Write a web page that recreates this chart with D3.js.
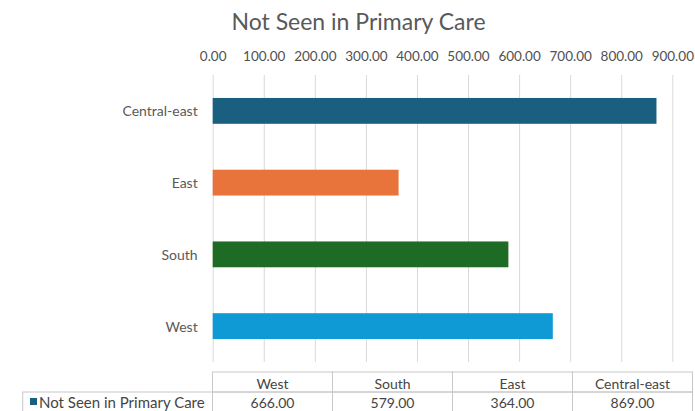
<!DOCTYPE html>
<html>
<head>
<meta charset="utf-8">
<script src="https://cdn.jsdelivr.net/npm/d3@7"></script>
<style>
  body { margin: 0; background: #fff; }
  text { font-family: Lato, "Open Sans", sans-serif; fill: #595959; }
</style>
</head>
<body>
<div id="chart"></div>
<script>
// Data.
let categories = ["Central-east", "East", "South", "West"];
let values = [869, 364, 579, 666];
let barColors = ["#1a5e80", "#e8743b", "#1e6b26", "#0f9ad6"];
let tableOrder = ["West", "South", "East", "Central-east"];
let xTicks = [0, 100, 200, 300, 400, 500, 600, 700, 800, 900];
let seriesName = "Not Seen in Primary Care";

let width = 695, height = 411;
let plot = {left: 212.7, right: 672.3, top: 75, bottom: 362};
let table = {left: 212.5, right: 692.5, top: 372, mid: 392, bottom: 412, legendLeft: 22.7};

let svg = d3.select("#chart")
            .append("svg")
            .attr("width", width)
            .attr("height", height);

// Scales.
let x = d3.scaleLinear()
          .domain([0, 900])
          .range([plot.left, plot.right]);

let y = d3.scaleBand()
          .domain(categories)
          .range([plot.top, plot.bottom])
          .paddingInner(0.64)
          .paddingOuter(0.32);

// Title.
svg.append("text")
   .attr("x", 358.5)
   .attr("y", 30)
   .attr("text-anchor", "middle")
   .style("font-size", "23px")
   .text(seriesName);

// Top axis with gridlines.
let xAxis = svg.append("g")
   .attr("transform", "translate(0," + plot.top + ")")
   .call(d3.axisTop(x)
           .tickValues(xTicks)
           .tickFormat(d3.format(".2f"))
           .tickSize(-(plot.bottom - plot.top))
           .tickPadding(14));
xAxis.select(".domain").remove();
xAxis.selectAll(".tick line").attr("stroke", "#d9d9d9").attr("stroke-width", 1);
xAxis.selectAll(".tick text")
     .style("font-size", "13.5px")
     .style("fill", "#505050");

// Category labels.
svg.append("g")
   .selectAll("text")
   .data(categories)
   .enter()
   .append("text")
   .attr("x", plot.left - 15)
   .attr("y", function(d) { return y(d) + y.bandwidth() / 2; })
   .attr("text-anchor", "end")
   .attr("dominant-baseline", "central")
   .style("font-size", "14px")
   .text(function(d) { return d; });

// Bars.
svg.append("g")
   .selectAll("rect")
   .data(categories)
   .enter()
   .append("rect")
   .attr("x", x(0))
   .attr("y", function(d) { return y(d); })
   .attr("width", function(d, i) { return x(values[i]) - x(0); })
   .attr("height", y.bandwidth())
   .attr("fill", function(d, i) { return barColors[i]; });

// Data table below the chart.
let col = d3.scaleBand()
            .domain(tableOrder)
            .range([table.left, table.right]);

let tg = svg.append("g");
let lineColor = "#c8c8c8";

// Header cells.
tg.selectAll(".hcell")
  .data(tableOrder)
  .enter()
  .append("rect")
  .attr("x", function(d) { return col(d); })
  .attr("y", table.top)
  .attr("width", col.bandwidth())
  .attr("height", table.mid - table.top)
  .attr("fill", "none")
  .attr("stroke", lineColor);

// Value cells.
tg.selectAll(".vcell")
  .data(tableOrder)
  .enter()
  .append("rect")
  .attr("x", function(d) { return col(d); })
  .attr("y", table.mid)
  .attr("width", col.bandwidth())
  .attr("height", table.bottom - table.mid)
  .attr("fill", "none")
  .attr("stroke", lineColor);

// Legend cell.
tg.append("rect")
  .attr("x", table.legendLeft)
  .attr("y", table.mid)
  .attr("width", table.left - table.legendLeft)
  .attr("height", table.bottom - table.mid)
  .attr("fill", "none")
  .attr("stroke", lineColor);

tg.selectAll(".htext")
  .data(tableOrder)
  .enter()
  .append("text")
  .attr("x", function(d) { return col(d) + col.bandwidth() / 2; })
  .attr("y", (table.top + table.mid) / 2 + 1)
  .attr("text-anchor", "middle")
  .attr("dominant-baseline", "central")
  .style("font-size", "14px")
  .style("fill", "#454545")
  .text(function(d) { return d; });

tg.selectAll(".vtext")
  .data(tableOrder)
  .enter()
  .append("text")
  .attr("x", function(d) { return col(d) + col.bandwidth() / 2; })
  .attr("y", (table.mid + table.bottom) / 2)
  .attr("text-anchor", "middle")
  .attr("dominant-baseline", "central")
  .style("font-size", "14px")
  .style("fill", "#454545")
  .text(function(d) { return d3.format(".2f")(values[categories.indexOf(d)]); });

// Legend key and series name.
tg.append("rect")
  .attr("x", 30)
  .attr("y", 398)
  .attr("width", 7)
  .attr("height", 7)
  .attr("fill", barColors[0]);

tg.append("text")
  .attr("x", 39)
  .attr("y", (table.mid + table.bottom) / 2)
  .attr("dominant-baseline", "central")
  .style("font-size", "15px")
  .style("fill", "#454545")
  .text(seriesName);
</script>
</body>
</html>
